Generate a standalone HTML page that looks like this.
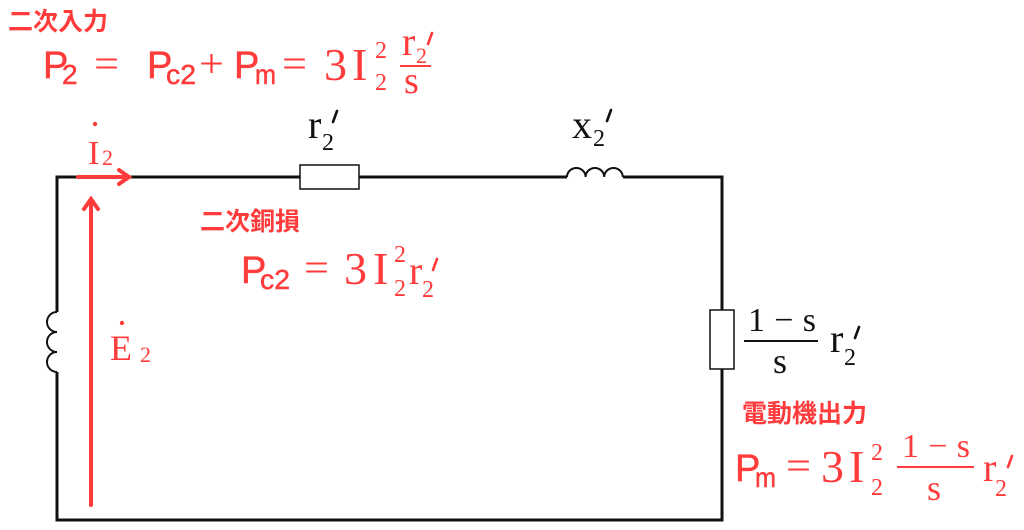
<!DOCTYPE html>
<html><head><meta charset="utf-8"><style>
html,body{margin:0;padding:0;background:#fff;}
svg{display:block}
.r{fill:#ff3b3b}
.s{font-family:"Liberation Sans","Noto Sans CJK JP",sans-serif;stroke:#ff3b3b;stroke-width:0.5}
.m{font-family:"Liberation Serif",serif}
.j{font-family:"Liberation Sans","Noto Sans CJK JP",sans-serif;font-weight:bold}
.pr{stroke-width:2.6;stroke-linecap:round;fill:none}
</style></head><body>
<svg width="1024" height="530" viewBox="0 0 1024 530" xmlns="http://www.w3.org/2000/svg">
<g stroke="#111" stroke-width="3" fill="none">
<path d="M57,312 V177 H300"/>
<path d="M359,177 H567"/>
<path d="M623,177 H722 V310"/>
<path d="M722,369 V520 H57 V372"/>
</g>
<g stroke="#111" stroke-width="1.5" fill="#fff">
<rect x="300" y="165" width="59" height="24"/>
<rect x="710" y="310" width="24" height="59"/>
</g>
<path d="M567,177 a9.3,9 0 0 1 18.6,0 a9.3,9 0 0 1 18.6,0 a9.3,9 0 0 1 18.6,0" stroke="#111" stroke-width="2" fill="none"/>
<path d="M57,312 a10,10 0 0 0 0,20 a10,10 0 0 0 0,20 a10,10 0 0 0 0,20" stroke="#111" stroke-width="2" fill="none"/>
<g stroke="#ff3b3b" stroke-width="4" fill="none" stroke-linecap="round">
<path d="M78,177 H128"/>
<path d="M119,170 L129,177 L119,184"/>
<path d="M91,505 V200"/>
<path d="M84,209 L91,199 L98,209"/>
</g>

<text x="8" y="30" class="j r" font-size="25">二次入力</text>
<g class="r">
<text x="43" y="78" class="s" font-size="38">P</text>
<text x="62" y="84" class="s" font-size="28">2</text>
<text x="94" y="77" class="m" font-size="40" textLength="25" lengthAdjust="spacingAndGlyphs">=</text>
<text x="147" y="78" class="s" font-size="38">P</text>
<text x="166" y="84" class="s" font-size="28" textLength="30" lengthAdjust="spacingAndGlyphs">c2</text>
<text x="199" y="77" class="m" font-size="40" textLength="25" lengthAdjust="spacingAndGlyphs">+</text>
<text x="234" y="78" class="s" font-size="38">P</text>
<text x="255" y="84" class="s" font-size="28" textLength="21" lengthAdjust="spacingAndGlyphs">m</text>
<text x="282" y="77" class="m" font-size="40" textLength="25" lengthAdjust="spacingAndGlyphs">=</text>
<text x="324" y="80" class="m" font-size="46">3</text>
<text x="352" y="80" class="m" font-size="46">I</text>
<text x="375" y="58" class="m" font-size="24">2</text>
<text x="375" y="90" class="m" font-size="24">2</text>
<text x="402" y="55" class="m" font-size="40">r</text>
<text x="416" y="63" class="m" font-size="22">2</text>
<path d="M432,33 L428,44" stroke="#ff3b3b" class="pr"/>
<rect x="400" y="65" width="31" height="2"/>
<text x="404" y="93" class="m" font-size="38">s</text>
</g>

<g class="r m">
<text x="88" y="164" font-size="34">I</text>
<circle cx="95" cy="124" r="2.2"/>
<text x="102" y="165" font-size="22">2</text>
<text x="110" y="360" font-size="36">E</text>
<circle cx="122" cy="323" r="2.2"/>
<text x="140" y="362" font-size="22">2</text>
</g>

<g class="m" fill="#111">
<text x="308" y="138" font-size="40">r</text>
<text x="322" y="150" font-size="24">2</text>
<path d="M337,111 L333,122" stroke="#111" class="pr"/>
<text x="572" y="138" font-size="40">x</text>
<text x="593" y="146" font-size="24">2</text>
<path d="M611,110 L607,121" stroke="#111" class="pr"/>
<text x="748" y="331" font-size="34" textLength="68" lengthAdjust="spacing">1−s</text>
<rect x="744" y="340" width="74" height="2"/>
<text x="773" y="373" font-size="36">s</text>
<text x="830" y="352" font-size="40">r</text>
<text x="844" y="365" font-size="24">2</text>
<path d="M859,327 L855,338" stroke="#111" class="pr"/>
</g>

<text x="200" y="230" class="j r" font-size="25">二次銅損</text>
<g class="r">
<text x="241" y="283" class="s" font-size="38">P</text>
<text x="260" y="289" class="s" font-size="28" textLength="30" lengthAdjust="spacingAndGlyphs">c2</text>
<text x="304" y="281" class="m" font-size="40" textLength="25" lengthAdjust="spacingAndGlyphs">=</text>
<text x="344" y="284" class="m" font-size="46">3</text>
<text x="373" y="284" class="m" font-size="46">I</text>
<text x="394" y="262" class="m" font-size="24">2</text>
<text x="394" y="296" class="m" font-size="24">2</text>
<text x="409" y="284" class="m" font-size="40">r</text>
<text x="422" y="297" class="m" font-size="24">2</text>
<path d="M437,259 L433,270" stroke="#ff3b3b" class="pr"/>
</g>

<text x="742" y="422" class="j r" font-size="25">電動機出力</text>
<g class="r">
<text x="735" y="481" class="s" font-size="38">P</text>
<text x="755" y="487" class="s" font-size="28" textLength="21" lengthAdjust="spacingAndGlyphs">m</text>
<text x="786" y="479" class="m" font-size="40" textLength="25" lengthAdjust="spacingAndGlyphs">=</text>
<text x="821" y="482" class="m" font-size="46">3</text>
<text x="849" y="482" class="m" font-size="46">I</text>
<text x="871" y="460" class="m" font-size="24">2</text>
<text x="871" y="495" class="m" font-size="24">2</text>
<text x="902" y="457" class="m" font-size="34" textLength="68" lengthAdjust="spacing">1−s</text>
<rect x="897" y="466" width="77" height="2"/>
<text x="927" y="500" class="m" font-size="36">s</text>
<text x="983" y="481" class="m" font-size="40">r</text>
<text x="995" y="496" class="m" font-size="24">2</text>
<path d="M1012,456 L1008,467" stroke="#ff3b3b" class="pr"/>
</g>
</svg>
</body></html>
